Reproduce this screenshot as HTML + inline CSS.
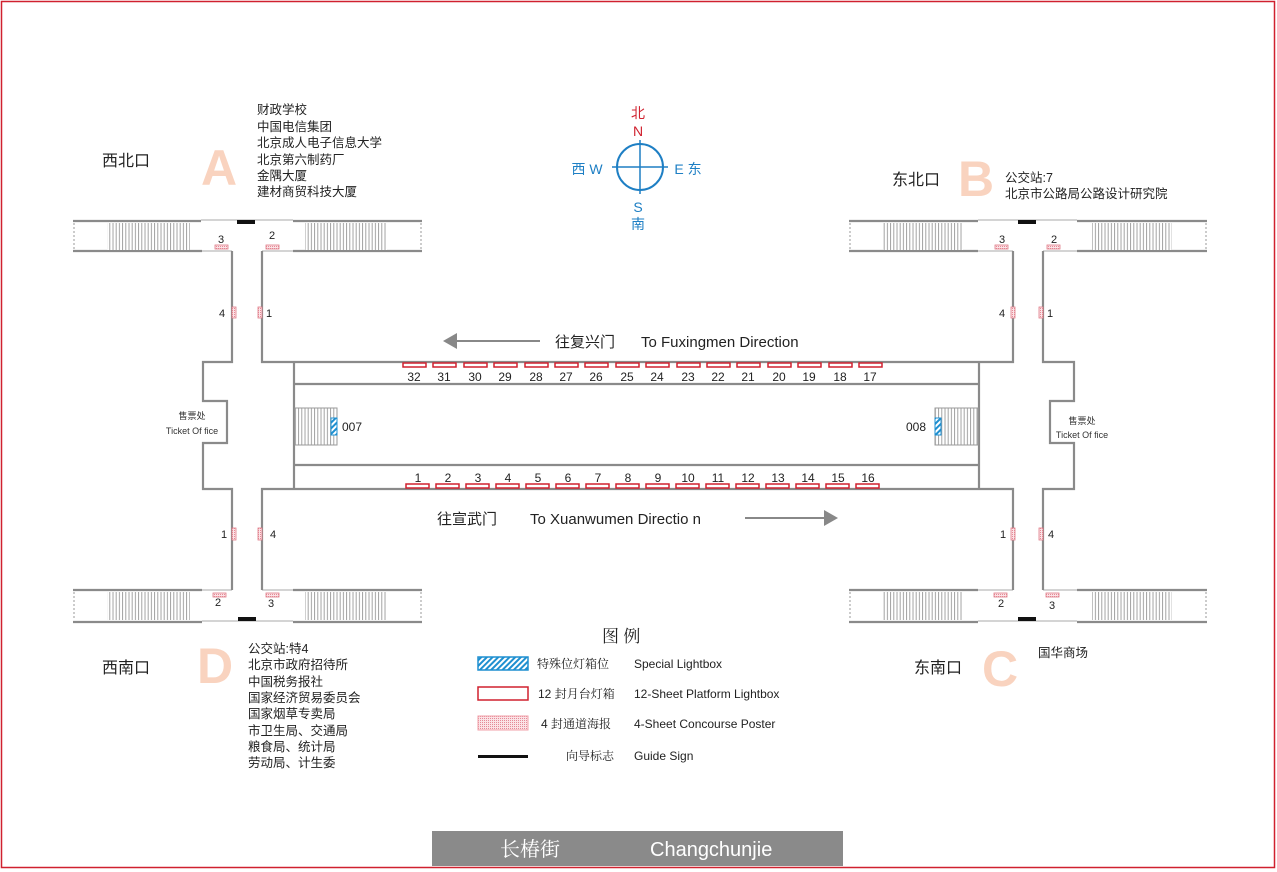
<!DOCTYPE html>
<html><head><meta charset="utf-8"><style>
body{margin:0;background:#fff}
svg{display:block}
text{font-family:"Liberation Sans","Noto Sans CJK SC",sans-serif}
.cj{font-family:"Noto Serif CJK SC","Liberation Serif",serif}
</style></head><body>
<svg width="1277" height="872" viewBox="0 0 1277 872" xmlns="http://www.w3.org/2000/svg">
<defs>
<pattern id="st" width="3.2" height="10" patternUnits="userSpaceOnUse"><rect width="3.2" height="10" fill="#fff"/><line x1="1" y1="0" x2="1" y2="10" stroke="#999" stroke-width="0.9"/></pattern>
<pattern id="sp" width="4" height="4" patternUnits="userSpaceOnUse" patternTransform="rotate(45)"><rect width="4" height="4" fill="#fff"/><rect width="2" height="4" fill="#1e8fd0"/></pattern>
<pattern id="dt" width="2" height="2" patternUnits="userSpaceOnUse"><rect width="2" height="2" fill="#fbe3e6"/><rect width="1" height="1" fill="#e58a97"/></pattern>
</defs>
<rect x="1.5" y="1.5" width="1273" height="866" fill="#fff" stroke="#d0212f" stroke-width="1.5"/>
<g stroke="#8a8a8a" fill="none" stroke-width="2.2">
<path d="M73 221H201M293 221H422M73 251H202M293 251H422"/>
<path d="M201 220H293M202 251H232M262 251H293" stroke-width="1" stroke="#aaa"/>
<path d="M73 590H202M293 590H422M73 622H202M293 622H422"/>
<path d="M202 590H232M262 590H293M202 621H293" stroke-width="1" stroke="#aaa"/>
<path d="M849 221H978M1077 221H1207M849 251H978M1077 251H1207"/>
<path d="M978 220H1077M978 251H1013M1043 251H1077" stroke-width="1" stroke="#aaa"/>
<path d="M849 590H978M1077 590H1207M849 622H978M1077 622H1207"/>
<path d="M978 590H1013M1043 590H1077M978 621H1077" stroke-width="1" stroke="#aaa"/>
<path d="M232 251V362H203V401H227V443H203V489H232V590"/>
<path d="M262 251V362H1013V251M262 590V489H1013V590"/>
<path d="M294 362V489M979 362V489M294 384H979M294 465H979"/>
<path d="M1043 251V362H1074V401H1050V443H1074V489H1043V590"/>
</g>
<g stroke="#999" stroke-width="1" stroke-dasharray="2 2">
<path d="M74 223V249M421 223V249M74 592V620M421 592V620M850 223V249M1206 223V249M850 592V620M1206 592V620"/>
</g>
<g fill="url(#st)">
<rect x="107" y="223" width="83" height="27"/><rect x="305" y="223" width="82" height="27"/>
<rect x="107" y="592" width="83" height="28"/><rect x="305" y="592" width="82" height="28"/>
<rect x="883" y="223" width="80" height="27"/><rect x="1092" y="223" width="80" height="27"/>
<rect x="883" y="592" width="80" height="28"/><rect x="1092" y="592" width="80" height="28"/>
<rect x="295" y="408" width="42" height="37" stroke="#999" stroke-width="1"/>
<rect x="935" y="408" width="43" height="37" stroke="#999" stroke-width="1"/>
</g>
<rect x="331" y="418" width="6" height="17" fill="url(#sp)" stroke="#1e8fd0"/>
<rect x="935" y="418" width="6" height="17" fill="url(#sp)" stroke="#1e8fd0"/>
<g fill="#111"><rect x="237" y="220" width="18" height="4"/><rect x="238" y="617" width="18" height="4"/><rect x="1018" y="220" width="18" height="4"/><rect x="1018" y="617" width="18" height="4"/></g>
<g fill="url(#dt)" stroke="#e07a88" stroke-width="0.8">
<rect x="215" y="245" width="13" height="4"/><rect x="266" y="245" width="13" height="4"/>
<rect x="232" y="307" width="4" height="11"/><rect x="258" y="307" width="4" height="11"/>
<rect x="232" y="528" width="4" height="12"/><rect x="258" y="528" width="4" height="12"/>
<rect x="213" y="593" width="13" height="4"/><rect x="266" y="593" width="13" height="4"/>
<rect x="995" y="245" width="13" height="4"/><rect x="1047" y="245" width="13" height="4"/>
<rect x="1011" y="307" width="4" height="11"/><rect x="1039" y="307" width="4" height="11"/>
<rect x="1011" y="528" width="4" height="12"/><rect x="1039" y="528" width="4" height="12"/>
<rect x="994" y="593" width="13" height="4"/><rect x="1046" y="593" width="13" height="4"/>
</g>
<g font-size="11" fill="#222" text-anchor="middle">
<text x="221" y="243">3</text><text x="272" y="239">2</text>
<text x="222" y="317">4</text><text x="269" y="317">1</text>
<text x="224" y="538">1</text><text x="273" y="538">4</text>
<text x="218" y="606">2</text><text x="271" y="607">3</text>
<text x="1002" y="243">3</text><text x="1054" y="243">2</text>
<text x="1002" y="317">4</text><text x="1050" y="317">1</text>
<text x="1003" y="538">1</text><text x="1051" y="538">4</text>
<text x="1001" y="607">2</text><text x="1052" y="609">3</text>
</g>
<g fill="#fff" stroke="#d0212f" stroke-width="1.5">
<rect x="403" y="363" width="23" height="4"/><rect x="433" y="363" width="23" height="4"/><rect x="464" y="363" width="23" height="4"/><rect x="494" y="363" width="23" height="4"/><rect x="525" y="363" width="23" height="4"/><rect x="555" y="363" width="23" height="4"/><rect x="585" y="363" width="23" height="4"/><rect x="616" y="363" width="23" height="4"/><rect x="646" y="363" width="23" height="4"/><rect x="677" y="363" width="23" height="4"/><rect x="707" y="363" width="23" height="4"/><rect x="737" y="363" width="23" height="4"/><rect x="768" y="363" width="23" height="4"/><rect x="798" y="363" width="23" height="4"/><rect x="829" y="363" width="23" height="4"/><rect x="859" y="363" width="23" height="4"/>
<rect x="406" y="484" width="23" height="4"/><rect x="436" y="484" width="23" height="4"/><rect x="466" y="484" width="23" height="4"/><rect x="496" y="484" width="23" height="4"/><rect x="526" y="484" width="23" height="4"/><rect x="556" y="484" width="23" height="4"/><rect x="586" y="484" width="23" height="4"/><rect x="616" y="484" width="23" height="4"/><rect x="646" y="484" width="23" height="4"/><rect x="676" y="484" width="23" height="4"/><rect x="706" y="484" width="23" height="4"/><rect x="736" y="484" width="23" height="4"/><rect x="766" y="484" width="23" height="4"/><rect x="796" y="484" width="23" height="4"/><rect x="826" y="484" width="23" height="4"/><rect x="856" y="484" width="23" height="4"/>
</g>
<g font-size="12" fill="#222" text-anchor="middle">
<text x="414" y="381">32</text><text x="444" y="381">31</text><text x="475" y="381">30</text><text x="505" y="381">29</text><text x="536" y="381">28</text><text x="566" y="381">27</text><text x="596" y="381">26</text><text x="627" y="381">25</text><text x="657" y="381">24</text><text x="688" y="381">23</text><text x="718" y="381">22</text><text x="748" y="381">21</text><text x="779" y="381">20</text><text x="809" y="381">19</text><text x="840" y="381">18</text><text x="870" y="381">17</text>
<text x="418" y="482">1</text><text x="448" y="482">2</text><text x="478" y="482">3</text><text x="508" y="482">4</text><text x="538" y="482">5</text><text x="568" y="482">6</text><text x="598" y="482">7</text><text x="628" y="482">8</text><text x="658" y="482">9</text><text x="688" y="482">10</text><text x="718" y="482">11</text><text x="748" y="482">12</text><text x="778" y="482">13</text><text x="808" y="482">14</text><text x="838" y="482">15</text><text x="868" y="482">16</text>
</g>
<text x="342" y="431" font-size="12" fill="#222">007</text>
<text x="906" y="431" font-size="12" fill="#222">008</text>
<g font-size="9" fill="#333" text-anchor="middle"><text x="192" y="419">售票处</text><text x="192" y="434">Ticket Of fice</text><text x="1082" y="424">售票处</text><text x="1082" y="438">Ticket Of fice</text></g>
<line x1="455" y1="341" x2="540" y2="341" stroke="#888" stroke-width="2"/><path d="M443 341L457 333V349Z" fill="#888"/>
<text x="555" y="347" font-size="15" fill="#222">往复兴门</text>
<text x="641" y="347" font-size="15" fill="#222">To Fuxingmen Direction</text>
<text x="437" y="524" font-size="15" fill="#222">往宣武门</text>
<text x="530" y="524" font-size="15" fill="#222">To Xuanwumen Directio n</text>
<line x1="745" y1="518" x2="826" y2="518" stroke="#888" stroke-width="2"/><path d="M838 518L824 510V526Z" fill="#888"/>
<circle cx="640" cy="167" r="23" fill="none" stroke="#1e7fc4" stroke-width="2"/>
<path d="M640 140V194M612 167H668" stroke="#1e7fc4" stroke-width="1.5"/>
<g font-size="14" text-anchor="middle"><text x="638" y="118" fill="#d0212f">北</text><text x="638" y="136" fill="#d0212f">N</text>
<text x="638" y="212" fill="#1e7fc4">S</text><text x="638" y="229" fill="#1e7fc4">南</text>
<text x="587" y="174" fill="#1e7fc4">西 W</text><text x="688" y="174" fill="#1e7fc4">E 东</text></g>
<g font-size="50" font-weight="bold" fill="#f9d3bf" text-anchor="middle"><text x="219" y="185">A</text><text x="976" y="196">B</text><text x="1000" y="686">C</text><text x="215" y="683">D</text></g>
<g class="cj" font-size="16" fill="#222"><text x="102" y="166">西北口</text><text x="892" y="185">东北口</text><text x="102" y="673">西南口</text><text x="914" y="673">东南口</text></g>
<g class="cj" font-size="12.5" fill="#222">
<text x="257" y="114">财政学校</text><text x="257" y="131">中国电信集团</text><text x="257" y="147">北京成人电子信息大学</text><text x="257" y="164">北京第六制药厂</text><text x="257" y="180">金隅大厦</text><text x="257" y="196">建材商贸科技大厦</text>
<text x="1005" y="182">公交站:7</text><text x="1005" y="198">北京市公路局公路设计研究院</text>
<text x="1038" y="657">国华商场</text>
<text x="248" y="653">公交站:特4</text><text x="248" y="669">北京市政府招待所</text><text x="248" y="686">中国税务报社</text><text x="248" y="702">国家经济贸易委员会</text><text x="248" y="718">国家烟草专卖局</text><text x="248" y="735">市卫生局、交通局</text><text x="248" y="751">粮食局、统计局</text><text x="248" y="767">劳动局、计生委</text>
</g>
<text x="602" y="642" class="cj" font-size="17" fill="#222">图  例</text>
<rect x="478" y="657" width="50" height="13" fill="url(#sp)" stroke="#1e8fd0" stroke-width="1.5"/>
<rect x="478" y="687" width="50" height="13" fill="#fff" stroke="#d0212f" stroke-width="1.5"/>
<rect x="478" y="716" width="50" height="14" fill="url(#dt)" stroke="#f0a0aa" stroke-width="1"/>
<rect x="478" y="755" width="50" height="3" fill="#111"/>
<g font-size="12" fill="#222">
<text x="537" y="668" class="cj">特殊位灯箱位</text><text x="634" y="668">Special Lightbox</text>
<text x="538" y="698">12 <tspan class="cj">封月台灯箱</tspan></text><text x="634" y="698">12-Sheet Platform Lightbox</text>
<text x="541" y="728">4 <tspan class="cj">封通道海报</tspan></text><text x="634" y="728">4-Sheet  Concourse Poster</text>
<text x="566" y="760" class="cj">向导标志</text><text x="634" y="760">Guide Sign</text>
</g>
<rect x="432" y="831" width="411" height="35" fill="#8a8a8a"/>
<text x="500" y="856" font-size="20" fill="#fff" class="cj">长椿街</text>
<text x="650" y="856" font-size="20" fill="#fff">Changchunjie</text>
</svg>
</body></html>
